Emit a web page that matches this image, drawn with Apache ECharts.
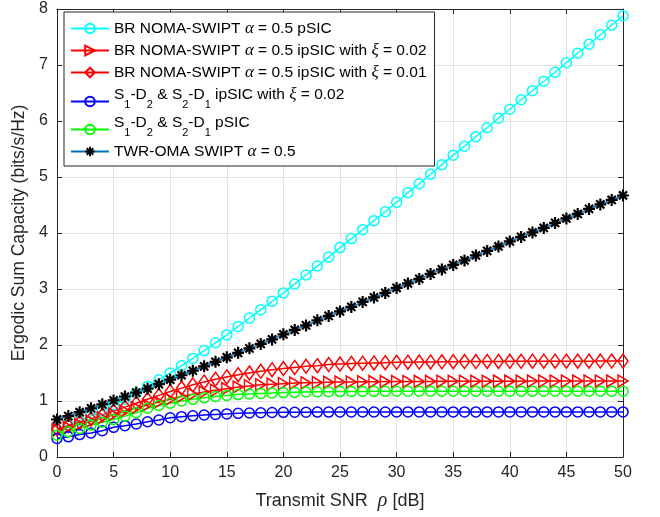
<!DOCTYPE html>
<html>
<head>
<meta charset="utf-8">
<script src="https://cdn.jsdelivr.net/npm/echarts@6/dist/echarts.min.js"></script>
<style>
html,body{margin:0;padding:0;background:#fff;}
#chart{width:660px;height:517px;}
</style>
</head>
<body>
<div id="chart"></div>
<script>
// x values: Transmit SNR (dB)
const snr = [];
for (let i = 0; i <= 50; i++) snr.push(i);

const xTicks = [0, 5, 10, 15, 20, 25, 30, 35, 40, 45, 50];
const yTicks = [0, 1, 2, 3, 4, 5, 6, 7, 8];

const seriesNames = [
  'BR NOMA-SWIPT alpha = 0.5 pSIC',
  'BR NOMA-SWIPT alpha = 0.5 ipSIC with xi = 0.02',
  'BR NOMA-SWIPT alpha = 0.5 ipSIC with xi = 0.01',
  'S1-D2 & S2-D1 ipSIC with xi = 0.02',
  'S1-D2 & S2-D1 pSIC',
  'TWR-OMA SWIPT alpha = 0.5'
];

const legendLabels = [
  '{n|BR NOMA-SWIPT }{g|α}{n| = 0.5 pSIC}',
  '{n|BR NOMA-SWIPT }{g|α}{n| = 0.5 ipSIC with }{g|ξ}{n| = 0.02}',
  '{n|BR NOMA-SWIPT }{g|α}{n| = 0.5 ipSIC with }{g|ξ}{n| = 0.01}',
  '{m|S}{s|1}{m|-D}{s|2}{m| & S}{s|2}{m|-D}{s|1}{m| ipSIC with }{h|ξ}{m| = 0.02}',
  '{m|S}{s|1}{m|-D}{s|2}{m| & S}{s|2}{m|-D}{s|1}{m| pSIC}',
  '{n|TWR-OMA SWIPT }{g|α}{n| = 0.5}'
];

const brPSIC = [0.50,0.57,0.65,0.74,0.83,0.93,1.03,1.14,1.26,1.38,1.50,
  1.63,1.76,1.90,2.04,2.18,2.33,2.48,2.63,2.78,2.93,
  3.09,3.25,3.41,3.57,3.74,3.90,4.06,4.22,4.38,4.55,
  4.72,4.88,5.05,5.22,5.39,5.55,5.72,5.88,6.05,6.21,
  6.38,6.54,6.71,6.87,7.04,7.21,7.37,7.54,7.71,7.88];

const brIpSIC002 = [0.48,0.53,0.58,0.64,0.70,0.76,0.82,0.88,0.93,0.98,1.03,
  1.08,1.12,1.16,1.19,1.22,1.25,1.27,1.29,1.30,1.31,
  1.32,1.325,1.33,1.335,1.34,1.34,1.343,1.345,1.347,1.348,
  1.349,1.35,1.35,1.351,1.352,1.352,1.353,1.353,1.354,1.354,
  1.354,1.355,1.355,1.355,1.355,1.356,1.356,1.356,1.356,1.357];

const brIpSIC001 = [0.50,0.56,0.62,0.68,0.75,0.82,0.89,0.96,1.03,1.10,1.17,
  1.23,1.29,1.34,1.39,1.43,1.47,1.50,1.53,1.56,1.58,
  1.60,1.62,1.63,1.65,1.66,1.67,1.675,1.68,1.685,1.69,
  1.693,1.696,1.698,1.70,1.702,1.704,1.705,1.706,1.707,1.708,
  1.709,1.71,1.71,1.711,1.711,1.712,1.712,1.713,1.713,1.714];

const sdIpSIC = [0.33,0.36,0.40,0.43,0.47,0.53,0.56,0.59,0.63,0.66,0.70,
  0.72,0.735,0.75,0.76,0.77,0.78,0.785,0.79,0.795,0.798,
  0.80,0.80,0.802,0.802,0.803,0.803,0.804,0.804,0.804,0.805,
  0.805,0.805,0.805,0.805,0.805,0.805,0.805,0.805,0.805,0.805,
  0.805,0.805,0.805,0.805,0.805,0.805,0.805,0.805,0.805,0.805];

const sdPSIC = [0.39,0.45,0.51,0.57,0.62,0.67,0.73,0.79,0.87,0.92,0.96,
  1.00,1.03,1.06,1.08,1.10,1.115,1.125,1.135,1.145,1.15,
  1.155,1.16,1.163,1.166,1.168,1.17,1.171,1.172,1.173,1.174,
  1.175,1.175,1.175,1.175,1.175,1.175,1.175,1.175,1.175,1.175,
  1.176,1.176,1.176,1.176,1.176,1.176,1.176,1.176,1.176,1.176];

const twrOMA = [0.67,0.73,0.80,0.87,0.94,1.01,1.08,1.15,1.22,1.30,1.38,
  1.46,1.54,1.62,1.70,1.78,1.86,1.94,2.02,2.10,2.19,
  2.27,2.35,2.44,2.52,2.60,2.68,2.77,2.85,2.93,3.02,
  3.10,3.18,3.27,3.35,3.43,3.51,3.60,3.68,3.76,3.85,
  3.93,4.01,4.09,4.18,4.26,4.34,4.43,4.51,4.59,4.67];

const pairs = arr => arr.map((v, i) => [snr[i], v]);

const chart = echarts.init(document.getElementById('chart'), null, {renderer: 'canvas'});

const axisColor = '#262626';
const gridColor = '#e3e3e3';
const sans = 'Liberation Sans, Arial, Helvetica, sans-serif';
const serif = 'Liberation Serif, DejaVu Serif, serif';

function lineSeries(name, data, color, symbol, size, extra) {
  return Object.assign({
    name: name,
    type: 'line',
    xAxisIndex: 0,
    yAxisIndex: 0,
    data: pairs(data),
    symbol: symbol,
    symbolSize: size,
    showSymbol: true,
    showAllSymbol: true,
    lineStyle: {color: color, width: 1.5},
    itemStyle: {color: 'rgba(0,0,0,0)', borderColor: color, borderWidth: 1.5},
    emphasis: {disabled: true},
    animation: false
  }, extra || {});
}

const starPath = 'path://M5,0L5,10M0,5L10,5M1.6,1.6L8.4,8.4M1.6,8.4L8.4,1.6';

const option = {
  backgroundColor: '#fff',
  animation: false,
  grid: {left: 57, right: 37, top: 9, bottom: 60, containLabel: false},
  xAxis: [{
    type: 'value', position: 'bottom', min: 0, max: 50, interval: 5,
    axisLine: {show: true, onZero: false, lineStyle: {color: axisColor, width: 1}},
    axisTick: {show: true, inside: true, length: 5, lineStyle: {color: axisColor}},
    splitLine: {show: true, lineStyle: {color: gridColor, width: 1}},
    axisLabel: {color: axisColor, fontSize: 16, fontFamily: sans, margin: 8,
      formatter: v => xTicks.includes(v) ? String(v) : ''},
    name: '{t|Transmit SNR  }{i|ρ}{t| [dB]}',
    nameLocation: 'middle', nameGap: 34,
    nameTextStyle: {rich: {
      t: {fontSize: 18, fontFamily: sans, color: axisColor},
      i: {fontSize: 20, fontFamily: serif, fontStyle: 'italic', color: axisColor}
    }}
  }, {
    type: 'value', position: 'top', min: 0, max: 50, interval: 5,
    axisLine: {show: true, onZero: false, lineStyle: {color: axisColor, width: 1}},
    axisTick: {show: true, inside: true, length: 5, lineStyle: {color: axisColor}},
    splitLine: {show: false}, axisLabel: {show: false}
  }],
  yAxis: [{
    type: 'value', position: 'left', min: 0, max: 8, interval: 1,
    axisLine: {show: true, onZero: false, lineStyle: {color: axisColor, width: 1}},
    axisTick: {show: true, inside: true, length: 5, lineStyle: {color: axisColor}},
    splitLine: {show: true, lineStyle: {color: gridColor, width: 1}},
    axisLabel: {color: axisColor, fontSize: 16, fontFamily: sans, margin: 9,
      formatter: v => yTicks.includes(v) ? String(v) : ''},
    name: 'Ergodic Sum Capacity (bits/s/Hz)',
    nameLocation: 'middle', nameGap: 27,
    nameTextStyle: {fontSize: 17.5, fontFamily: sans, color: axisColor}
  }, {
    type: 'value', position: 'right', min: 0, max: 8, interval: 1,
    axisLine: {show: true, onZero: false, lineStyle: {color: axisColor, width: 1}},
    axisTick: {show: true, inside: true, length: 5, lineStyle: {color: axisColor}},
    splitLine: {show: false}, axisLabel: {show: false}
  }],
  legend: {
    orient: 'vertical', left: 64, top: 12,
    padding: [8, 8, 6, 6],
    itemGap: 5, itemWidth: 38, itemHeight: 12,
    backgroundColor: '#fff', borderColor: axisColor, borderWidth: 1,
    data: seriesNames,
    formatter: name => legendLabels[seriesNames.indexOf(name)],
    textStyle: {
      color: '#000', fontSize: 15.5, fontFamily: sans,
      rich: {
        n: {fontSize: 15.5, fontFamily: sans, color: '#000', lineHeight: 17},
        g: {fontSize: 17, fontFamily: serif, fontStyle: 'italic', color: '#000', lineHeight: 17},
        m: {fontSize: 15.5, fontFamily: sans, color: '#000', lineHeight: 17, verticalAlign: 'bottom', padding: [0, 0, 7, 0]},
        h: {fontSize: 17, fontFamily: serif, fontStyle: 'italic', color: '#000', lineHeight: 17, verticalAlign: 'bottom', padding: [0, 0, 7, 0]},
        s: {fontSize: 11, fontFamily: sans, color: '#000', lineHeight: 12, verticalAlign: 'bottom'}
      }
    }
  },
  series: [
    lineSeries(seriesNames[0], brPSIC, '#00ffff', 'circle', 10),
    lineSeries(seriesNames[1], brIpSIC002, '#ff0000', 'triangle', [12, 10], {symbolRotate: -90}),
    lineSeries(seriesNames[2], brIpSIC001, '#ff0000', 'diamond', [10, 14]),
    lineSeries(seriesNames[3], sdIpSIC, '#0000ff', 'circle', 10),
    lineSeries(seriesNames[4], sdPSIC, '#00ff00', 'circle', 10),
    lineSeries(seriesNames[5], twrOMA, '#0072bd', starPath, 12, {
      itemStyle: {color: '#000', borderColor: '#000', borderWidth: 2.2}
    })
  ]
};

chart.setOption(option);
</script>
</body>
</html>
